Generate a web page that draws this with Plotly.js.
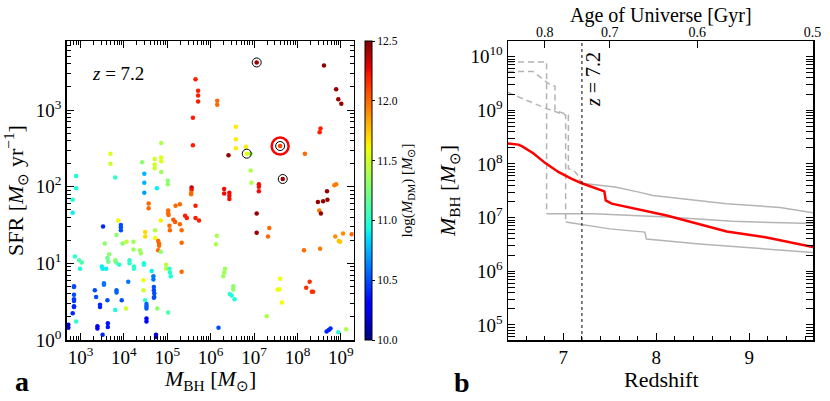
<!DOCTYPE html>
<html><head><meta charset="utf-8">
<script src="https://cdn.plot.ly/plotly-3.0.1.min.js"></script>
<style>html,body{margin:0;padding:0;background:#fff;} #chart{width:830px;height:401px;}</style>
</head><body><div id="chart"></div>
<script>
// ---------- Panel a: log10 values ----------
const logMBH = [2.90,2.90,2.82,3.69,3.69,3.80,4.42,4.47,4.47,4.47,4.71,4.71,4.71,4.76,4.86,4.86,4.86,4.86,5.01,5.01,4.57,4.57,5.19,5.29,5.65,5.71,5.71,5.71,5.59,5.59,5.56,5.56,5.55,5.55,5.65,
7.06,8.61,8.89,8.94,9.01,6.15,6.15,6.58,6.58,6.58,6.81,6.83,6.92,6.41,6.92,6.94,7.60,8.17,7.66,7.11,7.11,7.11,8.53,8.51,8.89,8.85,8.68,8.69,8.59,8.47,6.31,6.31,6.43,6.43,6.43,
5.65,5.73,5.29,5.33,5.33,5.33,7.06,7.06,7.35,7.32,6.14,6.12,6.33,6.31,6.29,6.52,6.52,6.44,6.48,6.55,6.18,7.29,7.60,7.54,7.58,7.64,8.15,8.52,8.28,8.20,8.33,8.36,8.50,8.54,8.87,9.05,8.95,8.98,9.25,8.67,8.72,8.76,8.94,9.12,
2.82,2.87,2.97,3.03,2.99,2.85,2.85,2.85,2.85,2.85,2.85,2.85,2.82,2.90,2.72,2.72,3.39,3.39,3.52,3.33,3.36,3.45,3.45,3.51,3.49,3.51,3.59,3.54,3.54,3.62,3.63,3.63,3.62,3.64,3.66,3.56,3.80,3.87,3.83,3.93,3.93,3.93,3.80,3.82,3.89,3.83,3.83,3.95,3.97,4.05,4.06,4.13,4.13,4.10,4.22,4.22,4.23,4.23,4.37,4.39,4.46,4.46,4.45,4.45,4.49,4.52,4.52,4.52,4.52,4.52,4.49,4.49,4.72,4.72,4.79,4.81,4.81,4.79,4.68,4.68,4.69,4.69,4.70,4.70,4.69,4.64,4.77,4.74,4.74,4.85,4.85,4.97,4.97,5.05,5.06,5.08,5.02,5.02,5.02,5.03,5.05,5.06,5.14,5.18,5.41,5.45];
const logSFR = [2.14,1.98,1.83,2.43,2.30,2.12,2.32,2.17,2.05,1.92,2.36,2.29,2.24,1.98,2.57,2.38,2.33,2.19,2.08,2.03,1.78,1.72,1.75,1.77,3.40,3.25,3.19,3.11,2.90,2.54,1.99,1.96,1.92,1.90,1.75,
3.62,3.58,3.27,3.14,3.08,3.12,3.07,2.78,2.62,2.50,2.52,2.43,2.43,2.41,2.21,2.05,2.53,2.43,2.10,2.03,2.00,1.94,2.76,2.71,2.03,2.02,1.94,1.83,1.81,1.80,1.97,1.91,1.92,1.88,1.84,
1.59,1.56,1.51,1.43,1.27,0.89,1.65,1.40,1.46,1.35,1.36,1.25,0.93,0.88,0.83,0.70,0.66,0.60,0.58,0.53,0.16,0.31,0.80,0.66,0.66,0.49,1.17,1.19,0.76,0.68,0.63,0.63,1.69,1.65,1.35,1.39,1.29,1.28,1.38,0.11,0.13,0.15,0.10,0.14,
1.66,1.09,1.04,1.01,0.93,0.70,0.69,0.59,0.53,0.51,0.44,0.43,0.35,0.24,0.20,0.16,0.18,0.15,1.48,0.65,0.56,0.46,0.43,0.07,0.96,0.93,0.93,0.74,0.72,0.52,0.22,0.17,1.07,1.02,1.12,1.26,0.39,1.56,1.37,1.50,1.47,1.43,1.04,1.01,0.98,0.65,0.62,0.52,1.26,0.41,1.28,1.04,1.00,0.76,1.28,1.18,0.96,0.93,1.17,1.13,1.00,0.98,0.78,0.65,0.52,0.47,0.44,0.41,0.28,0.24,1.41,1.35,1.43,1.33,1.29,1.26,1.23,1.17,0.83,0.79,0.69,0.65,0.61,0.56,0.55,0.90,0.41,0.07,0.04,1.56,1.15,0.98,0.93,0.93,0.88,0.83,0.36,1.69,1.65,1.63,1.49,1.43,1.57,1.54,1.62,1.59];
const logMDM = [10.95,10.95,10.95,11.55,11.5,11.0,11.3,10.75,10.75,10.7,11.5,11.5,11.5,10.9,11.4,11.55,11.55,11.35,11.3,11.3,12.0,12.0,12.0,12.0,12.2,12.2,12.2,12.2,12.2,12.2,12.35,12.25,12.0,12.0,12.2,
12.45,12.45,12.45,12.45,12.45,12.0,12.0,11.65,11.65,11.65,11.65,11.6,11.35,12.45,11.4,11.4,12.1,12.0,12.45,12.25,12.25,12.25,12.2,12.2,11.95,11.95,12.45,12.45,12.45,12.45,12.25,12.25,12.25,12.25,12.25,
12.2,12.2,12.0,12.0,12.0,12.0,12.45,12.45,12.0,12.0,11.4,11.4,11.35,11.35,11.35,11.3,11.3,11.0,10.95,10.95,10.5,11.4,11.6,11.6,11.6,11.6,12.0,11.95,12.15,12.15,12.15,12.15,11.95,12.45,11.9,11.9,11.75,11.75,12.0,10.4,10.4,10.4,11.0,11.4,
10.9,11.0,11.1,11.1,10.95,10.5,10.5,10.5,10.45,10.45,10.4,10.4,10.4,11.0,10.2,10.2,10.3,10.3,10.4,10.5,10.5,10.4,10.4,10.4,10.9,10.9,10.9,10.6,10.6,10.5,10.35,10.35,11.2,11.2,11.3,11.3,10.95,11.6,11.3,10.5,10.5,10.5,11.3,11.2,11.0,10.55,10.55,10.5,11.3,11.5,11.45,11.0,11.0,10.6,11.35,11.35,11.0,11.0,11.35,11.35,10.95,10.95,11.6,11.5,11.0,10.55,10.55,10.55,10.3,10.3,11.7,11.7,11.4,11.6,12.0,12.0,12.0,12.0,10.6,10.6,10.5,10.5,10.5,10.5,10.5,10.9,11.3,10.2,10.2,11.65,11.3,11.45,11.45,11.0,11.0,10.95,11.1,12.0,12.0,12.0,12.0,12.0,12.05,12.05,12.2,12.2];
// highlighted black holes (black rings) and the main one (red ring)
const ringLogMBH = [7.06, 6.83, 7.60, 7.66];
const ringLogSFR = [3.62, 2.43, 2.53, 2.10];
const mainLogMBH = [7.60];
const mainLogSFR = [2.53];
const snapshotZ = 7.2;

// ---------- Panel b ----------
const redZ    = [6.405,6.516,6.553,6.677,6.803,6.946,7.090,7.198,7.441,7.456,7.520,8.112,8.757,9.187,9.685];
const redLogM = [8.38,8.36,8.33,8.20,8.02,7.85,7.72,7.64,7.49,7.32,7.26,7.04,6.74,6.63,6.45];
const t1DashZ = [6.405,6.675,6.86,6.91,6.91,7.054,7.054,7.108,7.144,7.198];
const t1DashM = [9.72,9.72,9.47,9.45,9.00,8.91,7.91,7.88,7.82,7.64];
const t1SolidZ = [7.198,7.556,7.825,7.965,8.757,9.33,9.685];
const t1SolidM = [7.64,7.57,7.47,7.41,7.26,7.19,7.09];
const t2DashZ = [6.405,6.82,6.82];
const t2DashM = [9.90,9.90,7.07];
const t2SolidZ = [6.82,7.33,8.11,8.82,9.685];
const t2SolidM = [7.07,7.07,7.01,6.93,6.89];
const t3DashZ = [6.405,6.82,7.025,7.025];
const t3DashM = [9.33,9.03,8.91,6.92];
const t3SolidZ = [7.025,7.50,7.876,7.894,8.465,9.18,9.685];
const t3SolidM = [6.92,6.79,6.73,6.60,6.51,6.41,6.35];
// top axis: age of Universe tick labels and their redshifts
const ageLabels = ['0.8','0.7','0.6','0.5'];
const ageTickZ  = [6.80, 7.50, 8.44, 9.68];

const pow10 = a => a.map(v => Math.pow(10, v));
const FONT = '"Liberation Serif", "Times New Roman", Times, serif';
const W = 830, H = 401;

const jet = [[0,'rgb(0,0,128)'],[0.11,'rgb(0,0,255)'],[0.125,'rgb(0,0,255)'],[0.34,'rgb(0,219,255)'],
 [0.35,'rgb(0,230,247)'],[0.375,'rgb(21,255,226)'],[0.64,'rgb(239,255,8)'],[0.65,'rgb(247,245,0)'],
 [0.66,'rgb(255,236,0)'],[0.89,'rgb(255,19,0)'],[0.91,'rgb(232,0,0)'],[1,'rgb(128,0,0)']];

function decadeTicks(lo, hi) {
  const vals = [], text = [], minor = [];
  for (let p = lo; p <= hi; p++) {
    vals.push(Math.pow(10, p)); text.push('10<sup>' + p + '</sup>');
    for (let d = 2; d <= 9; d++) minor.push(d * Math.pow(10, p));
  }
  minor.push(...[1,2,3,4,5,6,7,8,9].map(d => d * Math.pow(10, lo - 1)));
  return {vals, text, minor};
}
const ta_x = decadeTicks(3, 9), ta_y = decadeTicks(0, 3), tb_y = decadeTicks(5, 10);

const yDom = [(H - 340) / H, (H - 41) / H];
const gray = '#b4b4b4';

const traces = [
  {x: pow10(logMBH), y: pow10(logSFR), xaxis: 'x', yaxis: 'y', type: 'scatter', mode: 'markers',
   marker: {size: 4.5, color: logMDM, colorscale: jet, cmin: 10, cmax: 12.5, showscale: true,
     colorbar: {x: 365 / W, xanchor: 'left', y: (H - 190.5) / H, yanchor: 'middle', len: 299, lenmode: 'pixels',
       thickness: 7, thicknessmode: 'pixels', outlinewidth: 1, outlinecolor: 'black', xpad: 0, ypad: 0,
       tickmode: 'array', tickvals: [10, 10.5, 11, 11.5, 12, 12.5], ticktext: ['10.0','10.5','11.0','11.5','12.0','12.5'],
       ticks: 'outside', ticklen: 3, tickcolor: 'black', tickfont: {family: FONT, size: 11.5, color: 'black'},
       title: {text: 'log(<i>M</i><sub>DM</sub>) [<i>M</i><sub>⊙</sub>]', side: 'right', font: {family: FONT, size: 15, color: 'black'}}}},
   showlegend: false},
  {x: pow10(ringLogMBH), y: pow10(ringLogSFR), xaxis: 'x', yaxis: 'y', type: 'scatter', mode: 'markers',
   marker: {symbol: 'circle-open', size: 9, color: 'black', line: {width: 1}}, showlegend: false},
  {x: pow10(mainLogMBH), y: pow10(mainLogSFR), xaxis: 'x', yaxis: 'y', type: 'scatter', mode: 'markers',
   marker: {symbol: 'circle-open', size: 17, color: 'red', line: {width: 2.5}}, showlegend: false},
];
const grayTracks = [[t1DashZ,t1DashM,'dash'],[t2DashZ,t2DashM,'dash'],[t3DashZ,t3DashM,'dash'],
                    [t1SolidZ,t1SolidM,'solid'],[t2SolidZ,t2SolidM,'solid'],[t3SolidZ,t3SolidM,'solid']];
grayTracks.forEach(([z, m, d]) => traces.push({x: z, y: pow10(m), xaxis: 'x2', yaxis: 'y2', type: 'scatter', mode: 'lines',
  line: {color: gray, width: 1.5, dash: d === 'dash' ? '6px,4px' : 'solid'}, showlegend: false}));
traces.push({x: redZ, y: pow10(redLogM), xaxis: 'x2', yaxis: 'y2', type: 'scatter', mode: 'lines',
  line: {color: '#ff0000', width: 2.5}, showlegend: false});
// invisible trace to activate top axis
traces.push({x: [ageTickZ[0]], y: [1e6], xaxis: 'x3', yaxis: 'y2', type: 'scatter', mode: 'markers',
  marker: {opacity: 0}, showlegend: false, hoverinfo: 'skip'});

const tickFont = {family: FONT, size: 19, color: 'black'};
const titleFont = {family: FONT, size: 22, color: 'black'};
const common = {showgrid: false, zeroline: false, showline: true, linecolor: 'black', linewidth: 1.5,
  ticks: 'inside', ticklen: 7, tickwidth: 1, tickcolor: 'black', tickfont: tickFont};

const layout = {
  width: W, height: H, margin: {l: 0, r: 0, t: 0, b: 0, pad: 0},
  paper_bgcolor: 'white', plot_bgcolor: 'white', font: {family: FONT, color: 'black'},
  xaxis: Object.assign({}, common, {type: 'log', range: [2.682, 9.295], domain: [66.7 / W, 353.7 / W], anchor: 'y',
    tickmode: 'array', tickvals: ta_x.vals, ticktext: ta_x.text, mirror: 'allticks',
    minor: {tickmode: 'array', tickvals: ta_x.minor, ticks: 'inside', ticklen: 4, tickwidth: 1, tickcolor: 'black'}}),
  yaxis: Object.assign({}, common, {type: 'log', range: [0, 3.9], domain: yDom, anchor: 'x',
    tickmode: 'array', tickvals: ta_y.vals, ticktext: ta_y.text, mirror: 'allticks',
    minor: {tickmode: 'array', tickvals: ta_y.minor, ticks: 'inside', ticklen: 4, tickwidth: 1, tickcolor: 'black'},
    title: {text: 'SFR [<i>M</i><sub>⊙</sub> yr<sup>−1</sup>]', font: titleFont, standoff: 7}}),
  xaxis2: Object.assign({}, common, {range: [6.405, 9.685], domain: [508 / W, 813 / W], anchor: 'y2',
    tickmode: 'linear', tick0: 0, dtick: 1, mirror: true,
    minor: {dtick: 0.2, ticks: 'inside', ticklen: 4, tickwidth: 1, tickcolor: 'black'}}),
  xaxis3: {range: [6.405, 9.685], overlaying: 'x2', anchor: 'y2', side: 'top', showgrid: false, zeroline: false,
    showline: false, tickmode: 'array', tickvals: ageTickZ, ticktext: ageLabels, ticks: 'inside', ticklen: 7,
    tickwidth: 1, tickcolor: 'black', tickfont: {family: FONT, size: 14, color: 'black'}},
  yaxis2: Object.assign({}, common, {type: 'log', range: [4.72, 10.29], domain: yDom, anchor: 'x2',
    tickmode: 'array', tickvals: tb_y.vals, ticktext: tb_y.text, mirror: 'allticks',
    minor: {tickmode: 'array', tickvals: tb_y.minor, ticks: 'inside', ticklen: 4, tickwidth: 1, tickcolor: 'black'},
    title: {text: '<i>M</i><sub>BH</sub> [<i>M</i><sub>⊙</sub>]', font: titleFont, standoff: 8}}),
  shapes: [{type: 'line', xref: 'x2', yref: 'y2 domain', x0: snapshotZ, x1: snapshotZ, y0: 0, y1: 1,
    line: {color: 'black', width: 1, dash: 'dot'}}],
  annotations: [
    // x-axis titles placed exactly
    {xref: 'paper', yref: 'paper', x: 210 / W, y: 1 - 380 / H, text: '<i>M</i><sub>BH</sub> [<i>M</i><sub>⊙</sub>]',
     showarrow: false, font: titleFont, xanchor: 'center', yanchor: 'middle'},
    {xref: 'paper', yref: 'paper', x: 661 / W, y: 1 - 379 / H, text: 'Redshift',
     showarrow: false, font: titleFont, xanchor: 'center', yanchor: 'middle'},
    {xref: 'paper', yref: 'paper', x: 660.5 / W, y: 1 - 15 / H, text: 'Age of Universe [Gyr]',
     showarrow: false, font: {family: FONT, size: 20, color: 'black'}, xanchor: 'center', yanchor: 'middle'},
    {xref: 'paper', yref: 'paper', x: 118 / W, y: 1 - 73 / H, text: '<i>z</i> = 7.2', showarrow: false,
     font: {family: FONT, size: 19, color: 'black'}, xanchor: 'center', yanchor: 'middle'},
    {xref: 'paper', yref: 'paper', x: 593 / W, y: 1 - 80 / H, text: '<i>z</i> = 7.2', showarrow: false, textangle: -90,
     font: {family: FONT, size: 20, color: 'black'}, xanchor: 'center', yanchor: 'middle'},
    {xref: 'paper', yref: 'paper', x: 22 / W, y: 1 - 381 / H, text: '<b>a</b>', showarrow: false,
     font: {family: FONT, size: 28, color: 'black'}, xanchor: 'center', yanchor: 'middle'},
    {xref: 'paper', yref: 'paper', x: 462 / W, y: 1 - 382 / H, text: '<b>b</b>', showarrow: false,
     font: {family: FONT, size: 28, color: 'black'}, xanchor: 'center', yanchor: 'middle'}
  ]
};
Plotly.newPlot('chart', traces, layout, {staticPlot: true, displayModeBar: false});
</script></body></html>
